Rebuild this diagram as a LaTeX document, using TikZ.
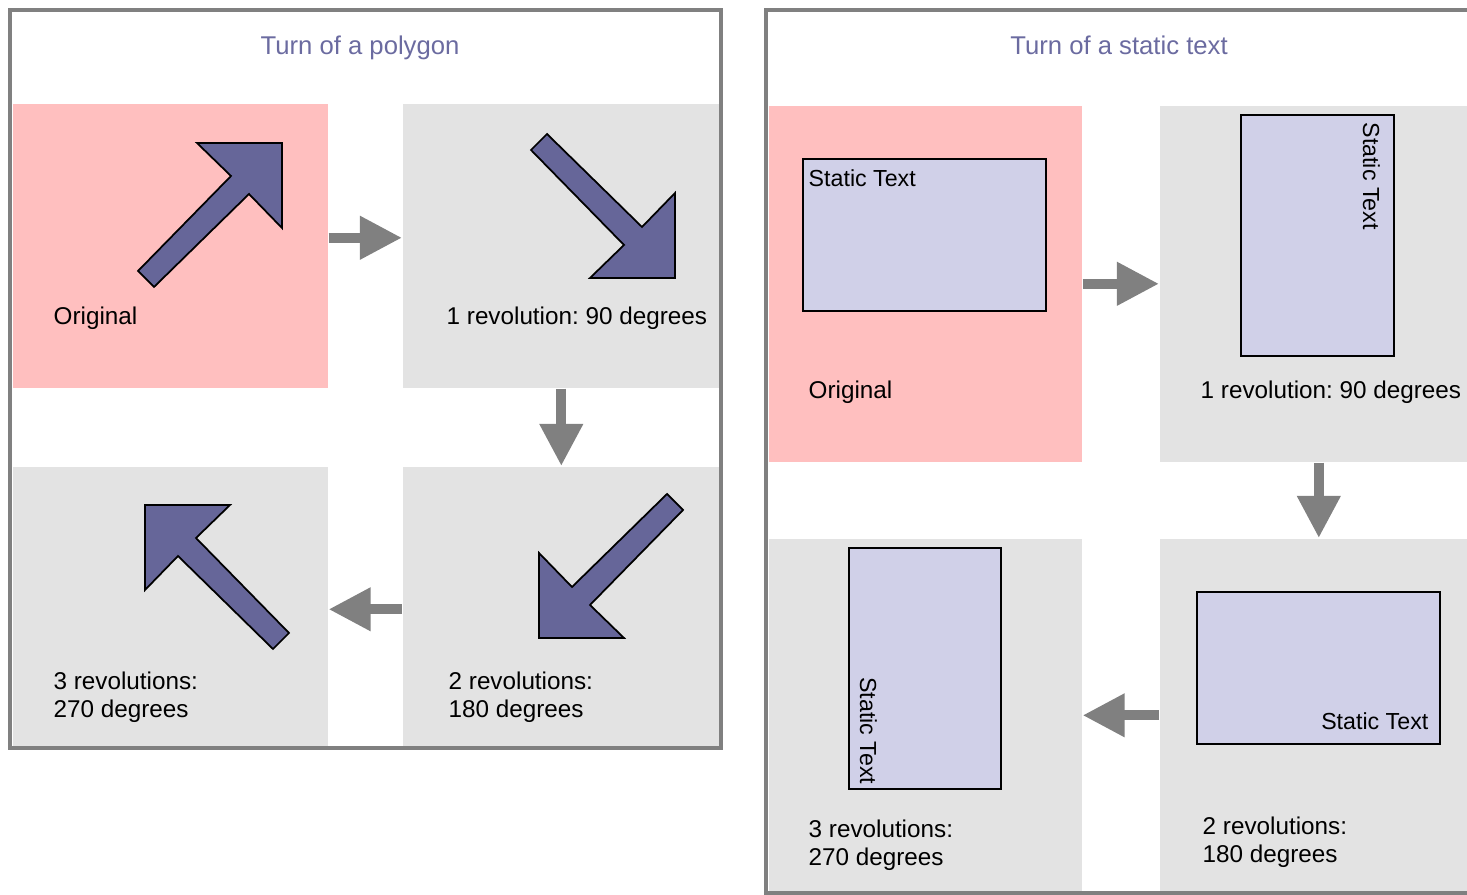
\documentclass[tikz,border=0pt]{standalone}
\usepackage{fontspec}
\setmainfont{Liberation Sans}
\usepackage{tikz}
\usetikzlibrary{arrows.meta}
\frenchspacing

\definecolor{framegray}{HTML}{808080}
\definecolor{origpink}{HTML}{FFBFBF}
\definecolor{stepgray}{HTML}{E3E3E3}
\definecolor{shapeblue}{HTML}{666699}
\definecolor{textblue}{HTML}{D0D0E8}
\definecolor{titleblue}{HTML}{6B6BA0}

\begin{document}
\begin{tikzpicture}[x=0.01cm, y=-0.01cm,
  panel/.style={draw=framegray, line width=0.035cm},
  pinkbox/.style={fill=origpink, draw=none, anchor=north west, inner sep=0},
  graybox/.style={fill=stepgray, draw=none, anchor=north west, inner sep=0},
  stbox/.style={fill=textblue, draw=black, line width=0.6pt, anchor=north west, inner sep=0},
  title/.style={font=\fontsize{7.3}{9}\selectfont, text=titleblue, anchor=base, inner sep=0},
  lbl/.style={font=\fontsize{6.9}{8.1}\selectfont, inner sep=0, align=left},
  sttext/.style={font=\fontsize{6.6}{8}\selectfont, inner sep=0},
  turn/.style={draw=framegray, line width=0.1cm, -{Triangle[length=0.42cm, width=0.41cm]}},
  polyarrow/.style={fill=shapeblue, draw=black, line width=0.5pt, line join=miter},
  turnarrow/.pic={\draw[polyarrow] (0,0) -- (-85,0) -- (-51,33) -- (-144,128) -- (-128,144) -- (-33,51) -- (0,85) -- cycle;}
]
  \useasboundingbox (0,0) rectangle (1467,895);
  % turn of a polygon
  \node[pinkbox, minimum width=3.15cm, minimum height=2.84cm] (polyorig) at (12,103) {};
  \node[graybox, minimum width=3.17cm, minimum height=2.84cm] (polyone) at (402,103) {};
  \node[graybox, minimum width=3.17cm, minimum height=2.79cm] (polytwo) at (402,466) {};
  \node[graybox, minimum width=3.15cm, minimum height=2.79cm] (polythree) at (12,466) {};
  \draw[turn] ([yshift=0.08cm]polyorig.east) -- ([yshift=0.08cm]polyone.west);
  \draw[turn] (polyone.south) -- (polytwo.north);
  \draw[turn] ([yshift=-0.03cm]polytwo.west) -- ([yshift=-0.03cm]polythree.east);
  \pic at (282,143) {turnarrow};
  \pic[rotate=-90] at (675,278) {turnarrow};
  \pic[rotate=180] at (539,638) {turnarrow};
  \pic[rotate=90] at (145,505) {turnarrow};
  \node[title] (polytitle) at (360,55) {Turn of a polygon};
  \node[lbl, anchor=base west] (polyorigl) at (53,325) {Original};
  \node[lbl, anchor=base west] (polyonel) at (446,325) {1 revolution: 90 degrees};
  \node[lbl, anchor=north west] (polytwol) at (448,671) {2 revolutions:\\180 degrees};
  \node[lbl, anchor=north west] (polythreel) at (53,671) {3 revolutions:\\270 degrees};
  \draw[panel] (10,10) rectangle (721,748);
  % turn of a static text
  \node[pinkbox, minimum width=3.13cm, minimum height=3.56cm] (textorig) at (768,105) {};
  \node[graybox, minimum width=3.18cm, minimum height=3.56cm] (textone) at (1159,105) {};
  \node[graybox, minimum width=3.18cm, minimum height=3.53cm] (texttwo) at (1159,538) {};
  \node[graybox, minimum width=3.13cm, minimum height=3.53cm] (textthree) at (768,538) {};
  \draw[turn] (textorig.east) -- (textone.west);
  \draw[turn] (textone.south) -- (texttwo.north);
  \draw[turn] (texttwo.west) -- (textthree.east);
  \node[stbox, minimum width=2.43cm, minimum height=1.52cm] (stzero) at (802,158) {};
  \node[sttext, anchor=base west] (stzerotxt) at (808,187) {Static Text};
  \node[stbox, minimum width=1.53cm, minimum height=2.41cm] (stone) at (1240,114) {};
  \node[sttext, rotate=-90, anchor=base west] (stonetxt) at (1363,122) {Static Text};
  \node[stbox, minimum width=2.43cm, minimum height=1.52cm] (sttwo) at (1196,591) {};
  \node[sttext, anchor=base east] (sttwotxt) at (1429,730) {Static Text};
  \node[stbox, minimum width=1.52cm, minimum height=2.41cm] (stthree) at (848,547) {};
  \node[sttext, rotate=-90, anchor=base east] (stthreetxt) at (860,785) {Static Text};
  \node[title] (texttitle) at (1119,55) {Turn of a static text};
  \node[lbl, anchor=base west] (textorigl) at (808,399) {Original};
  \node[lbl, anchor=base west] (textonel) at (1200,399) {1 revolution: 90 degrees};
  \node[lbl, anchor=north west] (texttwol) at (1202,816) {2 revolutions:\\180 degrees};
  \node[lbl, anchor=north west] (textthreel) at (808,819) {3 revolutions:\\270 degrees};
  \draw[panel] (766,10) rectangle (1480,893);
\end{tikzpicture}
\end{document}
